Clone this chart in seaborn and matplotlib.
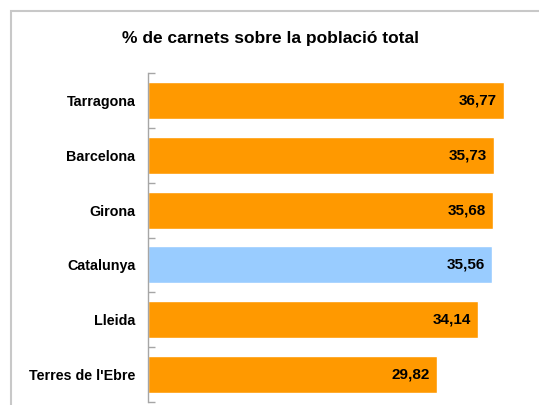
import numpy as np
import pandas as pd
import seaborn as sns
import matplotlib.pyplot as plt
from matplotlib.patches import Rectangle

# dades
territoris = ["Tarragona", "Barcelona", "Girona", "Catalunya", "Lleida", "Terres de l'Ebre"]
percentatges = [36.77, 35.73, 35.68, 35.56, 34.14, 29.82]
colors = ["#FF9900", "#FF9900", "#FF9900", "#99CCFF", "#FF9900", "#FF9900"]

sns.set_style("white")
plt.rcParams['font.family'] = ['Liberation Sans', 'DejaVu Sans']

df = pd.DataFrame({"territori": territoris, "pct": percentatges})

fig = plt.figure(figsize=(5.39, 4.05), dpi=100)
ax = fig.add_axes([148 / 539, 3 / 405, 387 / 539, 329 / 405])

sns.barplot(data=df, x="pct", y="territori", hue="territori", palette=colors,
            orient="h", width=0.675, legend=False, ax=ax, saturation=1)

ax.set_xlim(0, 40)
ax.set_ylim(len(territoris) - 0.5, -0.5)
ax.set_xlabel("")
ax.set_ylabel("")
ax.set_xticks([])

for i, v in enumerate(percentatges):
    ax.text(v - 0.7, i, f"{v:.2f}".replace(".", ","), ha="right", va="center",
            fontsize=11, fontweight="bold", color="black")

# eix vertical amb marques a les fronteres
for s in ["top", "right", "bottom"]:
    ax.spines[s].set_visible(False)
ax.spines["left"].set_color("#A6A6A6")
ax.spines["left"].set_linewidth(1)
ax.set_yticks(np.arange(-0.5, len(territoris)), minor=True)
ax.tick_params(axis="y", which="minor", left=True, direction="in", length=5,
               color="#A6A6A6", width=1)
ax.tick_params(axis="y", which="major", left=False, length=0, pad=9, labelcolor="black")
for lab in ax.get_yticklabels():
    lab.set_fontweight("bold")
    lab.set_fontsize(10.3)

fig.text(270 / 539, 1 - 38 / 405, "% de carnets sobre la població total",
         ha="center", va="center", fontsize=12.5, fontweight="bold", color="black")

# marc del gràfic
fig.add_artist(Rectangle((11 / 539, -0.05), 1.05, 0.974 + 0.05, transform=fig.transFigure,
                         fill=False, edgecolor="#C8C8C8", linewidth=1.5))

fig.savefig("out.png", dpi=100)
